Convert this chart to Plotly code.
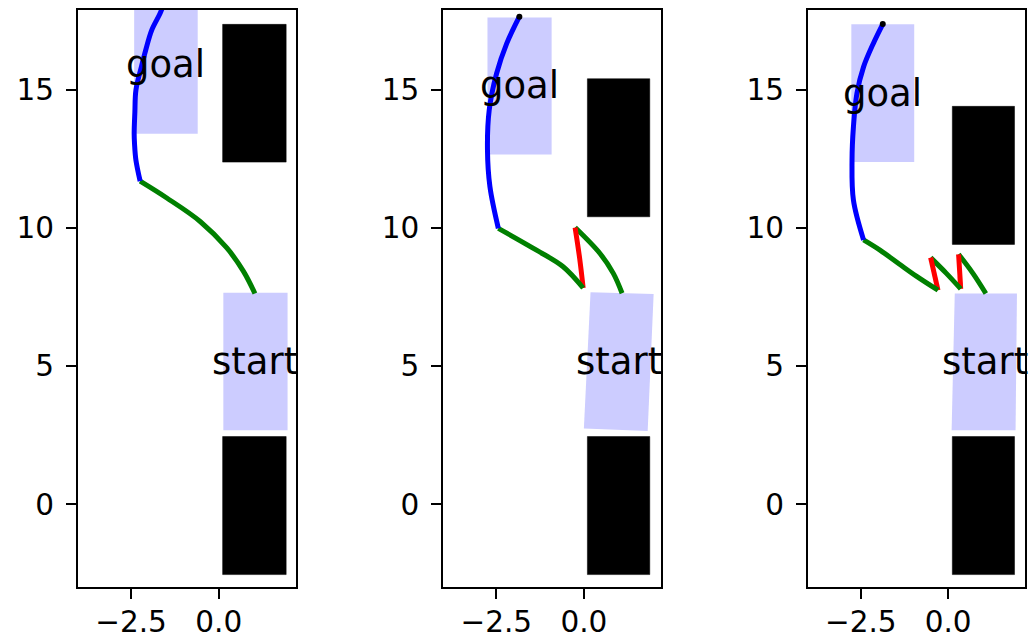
import plotly.graph_objects as go

# ---------------- data ----------------
# x-axis ticks / y-axis ticks
x_tick_vals = [-2.5, 0.0]
x_tick_text = ["\u22122.5", "0.0"]
y_tick_vals = [0, 5, 10, 15]
y_tick_text = ["0", "5", "10", "15"]
x_range = [-4.01, 2.2]
y_range = [-3.0, 17.9]

# obstacles [x0, x1, y0, y1]
p1_obstacles = [[0.11, 1.92, 12.39, 17.38], [0.11, 1.92, -2.55, 2.45]]
p2_obstacles = [[0.10, 1.88, 10.41, 15.41], [0.10, 1.88, -2.55, 2.45]]
p3_obstacles = [[0.12, 1.90, 9.41, 14.41], [0.12, 1.90, -2.55, 2.45]]

# goal boxes [x0, x1, y0, y1]
p1_goal = [-2.41, -0.60, 13.42, 18.42]
p2_goal = [-2.75, -0.92, 12.67, 17.63]
p3_goal = [-2.77, -0.97, 12.39, 17.38]

# start footprints (polygon corners, possibly slightly rotated)
p1_start_x = [0.13, 1.96, 1.96, 0.13]
p1_start_y = [7.66, 7.66, 2.68, 2.68]
p2_start_x = [0.19, 1.99, 1.82, 0.00]
p2_start_y = [7.68, 7.61, 2.65, 2.74]
p3_start_x = [0.19, 1.97, 1.93, 0.10]
p3_start_y = [7.63, 7.63, 2.68, 2.68]

# path segments in travel order
p1_green1_x = [1.03, 0.70, 0.23, -0.53, -1.48, -2.24]
p1_green1_y = [7.63, 8.44, 9.28, 10.24, 11.09, 11.70]
p1_blue_x = [-2.24, -2.36, -2.40, -2.41, -2.39, -2.36, -2.20, -2.08, -1.91, -1.65, -1.50]
p1_blue_y = [11.70, 12.46, 13.06, 13.42, 14.20, 15.00, 15.86, 16.45, 17.17, 17.84, 18.42]

p2_green1_x = [1.09, 0.84, 0.46, -0.25]
p2_green1_y = [7.64, 8.36, 9.08, 10.02]
p2_red1_x = [-0.25, -0.12, -0.02]
p2_red1_y = [10.02, 8.90, 7.83]
p2_green2_x = [-0.02, -0.59, -1.35, -2.44]
p2_green2_y = [7.83, 8.60, 9.20, 9.99]
p2_blue_x = [-2.44, -2.68, -2.75, -2.70, -2.49, -2.20, -1.84]
p2_blue_y = [9.99, 11.50, 12.83, 14.28, 15.60, 16.69, 17.66]

p3_green1_x = [1.08, 0.71, 0.30]
p3_green1_y = [7.63, 8.36, 9.05]
p3_red1_x = [0.30, 0.36]
p3_red1_y = [9.05, 7.80]
p3_green2_x = [0.36, -0.05, -0.50]
p3_green2_y = [7.80, 8.36, 8.93]
p3_red2_x = [-0.50, -0.29]
p3_red2_y = [8.93, 7.75]
p3_green3_x = [-0.29, -0.90, -1.40, -1.95, -2.42]
p3_green3_y = [7.75, 8.25, 8.70, 9.20, 9.57]
p3_blue_x = [-2.42, -2.71, -2.75, -2.71, -2.61, -2.42, -2.14, -1.87]
p3_blue_y = [9.57, 11.01, 12.46, 13.67, 14.88, 15.84, 16.69, 17.39]

panels = [
    dict(obst=p1_obstacles, goal=p1_goal, sx=p1_start_x, sy=p1_start_y,
         segs=[("green", p1_green1_x, p1_green1_y), ("blue", p1_blue_x, p1_blue_y)]),
    dict(obst=p2_obstacles, goal=p2_goal, sx=p2_start_x, sy=p2_start_y,
         segs=[("green", p2_green1_x, p2_green1_y), ("red", p2_red1_x, p2_red1_y),
               ("green", p2_green2_x, p2_green2_y), ("blue", p2_blue_x, p2_blue_y)]),
    dict(obst=p3_obstacles, goal=p3_goal, sx=p3_start_x, sy=p3_start_y,
         segs=[("green", p3_green1_x, p3_green1_y), ("red", p3_red1_x, p3_red1_y),
               ("green", p3_green2_x, p3_green2_y), ("red", p3_red2_x, p3_red2_y),
               ("green", p3_green3_x, p3_green3_y), ("blue", p3_blue_x, p3_blue_y)]),
]

# ---------------- figure ----------------
W, H = 1031, 642
x_domains_px = [(78, 296), (443.3, 661), (808, 1025)]   # screen pixels
y_domain_px = (10, 587)

colors = {"green": "#008000", "blue": "#0000ff", "red": "#ff0000"}
box_fill = "#ccccff"
font_family = "DejaVu Sans"

fig = go.Figure()
annotations = []

for i, p in enumerate(panels):
    xa = "x" if i == 0 else f"x{i+1}"
    ya = "y" if i == 0 else f"y{i+1}"

    for (x0, x1, y0, y1) in p["obst"]:
        fig.add_trace(go.Scatter(x=[x0, x1, x1, x0, x0], y=[y0, y0, y1, y1, y0],
                                 mode="lines", fill="toself", fillcolor="black",
                                 line=dict(color="black", width=0.5),
                                 xaxis=xa, yaxis=ya, hoverinfo="skip", showlegend=False))
    gx0, gx1, gy0, gy1 = p["goal"]
    fig.add_trace(go.Scatter(x=[gx0, gx1, gx1, gx0, gx0], y=[gy0, gy0, gy1, gy1, gy0],
                             mode="lines", fill="toself", fillcolor=box_fill,
                             line=dict(width=0), xaxis=xa, yaxis=ya,
                             hoverinfo="skip", showlegend=False))
    fig.add_trace(go.Scatter(x=p["sx"] + [p["sx"][0]], y=p["sy"] + [p["sy"][0]],
                             mode="lines", fill="toself", fillcolor=box_fill,
                             line=dict(width=0), xaxis=xa, yaxis=ya,
                             hoverinfo="skip", showlegend=False))
    for (c, xs, ys) in p["segs"]:
        fig.add_trace(go.Scatter(x=xs, y=ys, mode="lines",
                                 line=dict(color=colors[c], width=5, shape="spline", smoothing=1.0),
                                 xaxis=xa, yaxis=ya, hoverinfo="skip", showlegend=False))
    bx, by = p["segs"][-1][1], p["segs"][-1][2]
    fig.add_trace(go.Scatter(x=[bx[-1]], y=[by[-1]], mode="markers",
                             marker=dict(color="black", size=6),
                             cliponaxis=True, xaxis=xa, yaxis=ya,
                             hoverinfo="skip", showlegend=False))

    annotations.append(dict(x=(gx0 + gx1) / 2, y=(gy0 + gy1) / 2, xref=xa, yref=ya,
                            text="goal", showarrow=False, xanchor="center", yanchor="middle",
                            font=dict(family=font_family, size=37, color="black")))
    scx = sum(p["sx"]) / len(p["sx"])
    scy = sum(p["sy"]) / len(p["sy"])
    annotations.append(dict(x=scx, y=scy, xref=xa, yref=ya,
                            text="start", showarrow=False, xanchor="center", yanchor="middle",
                            font=dict(family=font_family, size=37, color="black")))

axis_common = dict(showgrid=False, zeroline=False, showline=True, mirror=True,
                   linecolor="black", linewidth=2, ticks="outside", ticklen=10,
                   tickwidth=2, tickcolor="black", automargin=False,
                   tickfont=dict(family=font_family, size=29.5, color="black"))

layout = dict(width=W, height=H, margin=dict(l=0, r=0, t=0, b=0, autoexpand=False),
              plot_bgcolor="white", paper_bgcolor="white",
              showlegend=False, annotations=annotations)

yd = [1 - y_domain_px[1] / H, 1 - y_domain_px[0] / H]
for i, (a, b) in enumerate(x_domains_px):
    sx = "" if i == 0 else str(i + 1)
    layout["xaxis" + sx] = dict(axis_common, domain=[a / W, b / W],
                                range=x_range, tickvals=x_tick_vals, ticktext=x_tick_text,
                                anchor="y" + sx, ticklabelstandoff=-2)
    layout["yaxis" + sx] = dict(axis_common, domain=yd, range=y_range,
                                tickvals=y_tick_vals, ticktext=y_tick_text,
                                anchor="x" + sx, ticklabelstandoff=6)

fig.update_layout(**layout)

page_fix = ("document.documentElement.style.margin='0';"
            "document.documentElement.style.overflow='hidden';"
            "document.body.style.margin='0';"
            "document.body.style.padding='0';"
            "document.body.style.overflow='hidden';")
fig.write_html("out.html", post_script=page_fix, config={"displayModeBar": False})
